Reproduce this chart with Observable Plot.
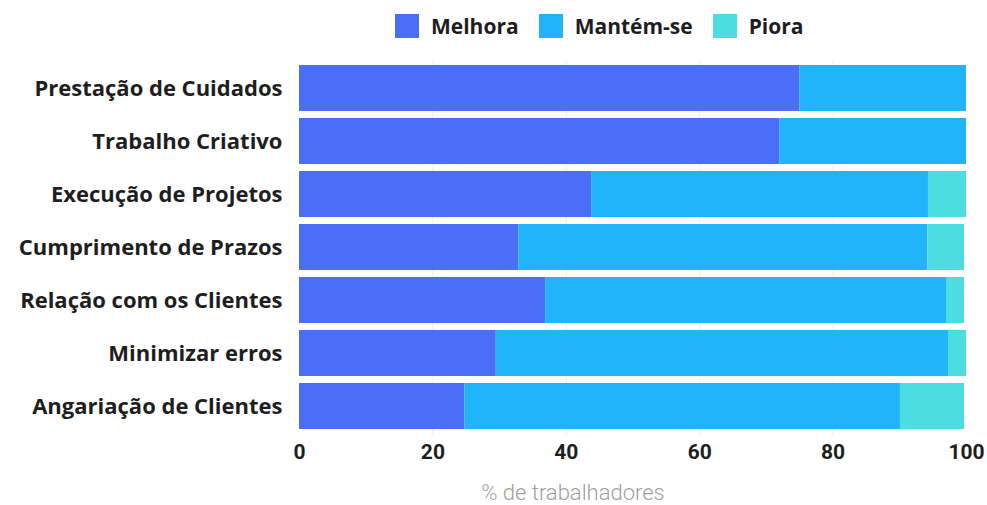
<!DOCTYPE html>
<html><head><meta charset="utf-8">
<script src="https://cdn.jsdelivr.net/npm/d3@7"></script>
<script src="https://cdn.jsdelivr.net/npm/@observablehq/plot@0.6"></script>
<style>
body{margin:0;background:#fff;}
#wrap{position:relative;width:987px;height:505px;overflow:hidden;}
#legend{position:absolute;top:13px;left:395px;display:flex;align-items:center;font-family:"Open Sans",sans-serif;font-weight:700;font-size:21px;color:#1e1e1e;line-height:26px;}
#legend .item{display:flex;align-items:center;margin-right:20px;}
#legend .sw{width:24px;height:24px;margin-right:12px;}
#chart{position:absolute;top:0;left:0;}
</style></head><body>
<div id="wrap"><div id="legend"></div><div id="chart"></div></div>
<script>
const categories = ["Prestação de Cuidados","Trabalho Criativo","Execução de Projetos","Cumprimento de Prazos","Relação com os Clientes","Minimizar erros","Angariação de Clientes"];
const series = ["Melhora","Mantém-se","Piora"];
const colors = ["#4b6ef6","#22b4fb","#4cdde0"];
const melhora = [75, 72, 43.8, 32.9, 36.9, 29.5, 24.8];
const mantem  = [25, 28, 50.5, 61.3, 60.1, 67.8, 65.3];
const piora   = [0, 0, 5.7, 5.5, 2.7, 2.7, 9.6];
const xTicks = [0, 20, 40, 60, 80, 100];
const xLabel = "% de trabalhadores";

const values = [melhora, mantem, piora];
const data = [];
categories.forEach((c, i) => series.forEach((s, j) => data.push({cat: c, serie: s, value: values[j][i]})));

const leg = document.getElementById("legend");
series.forEach((s, j) => {
  const it = document.createElement("div"); it.className = "item";
  const sw = document.createElement("div"); sw.className = "sw"; sw.style.background = colors[j];
  const t = document.createElement("span"); t.textContent = s;
  it.append(sw, t); leg.append(it);
});

const chart = Plot.plot({
  width: 987, height: 505,
  marginLeft: 299, marginRight: 21, marginTop: 60, marginBottom: 70,
  style: {fontFamily: "Open Sans", background: "transparent"},
  x: {domain: [0, 100], ticks: xTicks, label: null},
  y: {domain: categories, label: null, paddingInner: 0.125, paddingOuter: 0.0625},
  color: {domain: series, range: colors},
  marks: [
    Plot.gridX(xTicks.slice(1, -1), {stroke: "#e6f2f8", strokeOpacity: 1}),
    Plot.barX(data, {y: "cat", x: "value", fill: "serie"}),
    Plot.axisY({tickSize: 0, tickPadding: 17, fontSize: 22, fontWeight: 700, fill: "#1e1e1e"}),
    Plot.axisX({ticks: xTicks, tickSize: 0, tickPadding: 9, fontSize: 21, fontWeight: 700, fontFamily: "Roboto", fill: "#1e1e1e", label: null}),
    Plot.text([xLabel], {frameAnchor: "bottom", dy: 64, dx: -60, fontSize: 22, fontWeight: 300, fontFamily: "Roboto", fill: "#a0a0a0"})
  ]
});
document.getElementById("chart").append(chart);
</script>
</body></html>
